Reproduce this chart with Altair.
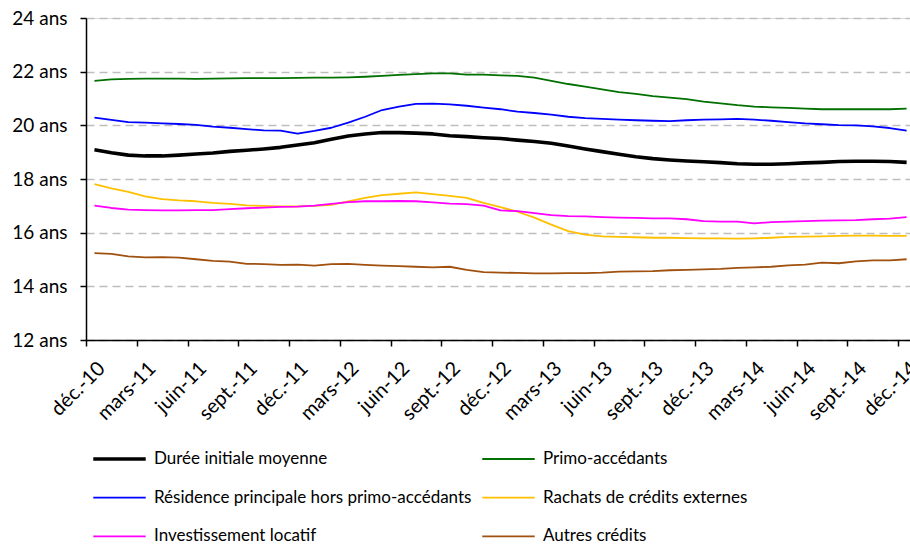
import json
import altair as alt
import pandas as pd

# Monthly series, déc.-10 to déc.-14 (49 months), in years
duree = [19.09, 18.98, 18.89, 18.86, 18.86, 18.89, 18.93, 18.97, 19.03, 19.07, 19.12, 19.18, 19.27,
         19.35, 19.48, 19.60, 19.68, 19.73, 19.73, 19.71, 19.68, 19.61, 19.58, 19.54, 19.51,
         19.45, 19.40, 19.33, 19.23, 19.12, 19.02, 18.92, 18.83, 18.76, 18.71, 18.67, 18.64,
         18.61, 18.57, 18.55, 18.55, 18.57, 18.60, 18.62, 18.65, 18.66, 18.66, 18.65, 18.62]
primo = [21.66, 21.71, 21.73, 21.74, 21.74, 21.74, 21.73, 21.74, 21.75, 21.76, 21.76, 21.76, 21.77,
         21.78, 21.78, 21.79, 21.81, 21.84, 21.88, 21.91, 21.94, 21.94, 21.89, 21.89, 21.86,
         21.84, 21.78, 21.66, 21.54, 21.44, 21.34, 21.24, 21.17, 21.09, 21.03, 20.98, 20.88,
         20.82, 20.75, 20.70, 20.67, 20.65, 20.62, 20.60, 20.60, 20.60, 20.60, 20.60, 20.62]
residence = [20.29, 20.20, 20.12, 20.10, 20.07, 20.05, 20.02, 19.95, 19.91, 19.86, 19.81, 19.80, 19.69,
             19.79, 19.91, 20.10, 20.32, 20.57, 20.70, 20.80, 20.81, 20.78, 20.73, 20.66, 20.60,
             20.51, 20.46, 20.40, 20.32, 20.27, 20.24, 20.21, 20.19, 20.17, 20.16, 20.19, 20.21,
             20.22, 20.24, 20.21, 20.17, 20.12, 20.07, 20.04, 20.01, 20.00, 19.96, 19.90, 19.80]
rachats = [17.81, 17.65, 17.52, 17.35, 17.25, 17.20, 17.17, 17.11, 17.07, 17.02, 17.00, 16.98, 16.98,
           17.00, 17.04, 17.17, 17.30, 17.40, 17.45, 17.50, 17.44, 17.37, 17.30, 17.11, 16.95,
           16.78, 16.56, 16.30, 16.06, 15.93, 15.86, 15.84, 15.83, 15.81, 15.81, 15.80, 15.79,
           15.79, 15.78, 15.79, 15.81, 15.84, 15.85, 15.86, 15.88, 15.89, 15.89, 15.88, 15.88]
locatif = [17.01, 16.92, 16.86, 16.84, 16.83, 16.83, 16.84, 16.84, 16.88, 16.91, 16.93, 16.96, 16.97,
           17.01, 17.07, 17.14, 17.17, 17.17, 17.18, 17.17, 17.13, 17.08, 17.06, 17.01, 16.83,
           16.80, 16.73, 16.65, 16.62, 16.61, 16.58, 16.56, 16.55, 16.53, 16.53, 16.50, 16.43,
           16.41, 16.41, 16.35, 16.39, 16.41, 16.43, 16.45, 16.46, 16.47, 16.50, 16.52, 16.58]
autres = [15.24, 15.21, 15.12, 15.08, 15.09, 15.07, 15.01, 14.95, 14.92, 14.84, 14.83, 14.80, 14.81,
          14.77, 14.83, 14.84, 14.80, 14.77, 14.75, 14.73, 14.71, 14.73, 14.61, 14.53, 14.51,
          14.50, 14.48, 14.48, 14.49, 14.49, 14.51, 14.55, 14.56, 14.57, 14.60, 14.61, 14.63,
          14.65, 14.69, 14.71, 14.73, 14.78, 14.81, 14.88, 14.86, 14.93, 14.97, 14.97, 15.01]

series_names = ["Durée initiale moyenne", "Primo-accédants",
                "Résidence principale hors primo-accédants", "Rachats de crédits externes",
                "Investissement locatif", "Autres crédits"]
series_values = [duree, primo, residence, rachats, locatif, autres]
series_colors = ["#000000", "#007000", "#0000FF", "#FFC000", "#FF00FF", "#A0500F"]
series_widths = [3.6, 1.8, 1.8, 1.8, 1.8, 1.8]

# the legend fills its two columns top to bottom, so list the left column first
legend_order = [0, 2, 4, 1, 3, 5]
dom = [series_names[k] for k in legend_order]
col_range = [series_colors[k] for k in legend_order]
w_range = [series_widths[k] for k in legend_order]

# quarterly axis labels (every third month)
tick_labels = ["déc.-10", "mars-11", "juin-11", "sept.-11", "déc.-11", "mars-12", "juin-12",
               "sept.-12", "déc.-12", "mars-13", "juin-13", "sept.-13", "déc.-13", "mars-14",
               "juin-14", "sept.-14", "déc.-14"]

rows = []
for name, vals in zip(series_names, series_values):
    for i, v in enumerate(vals):
        rows.append({"mois": i, "serie": name, "duree": v})
df = pd.DataFrame(rows)

FONT = "Lato"
half = 824 / 48.7 / 2  # half a month in pixels

legend = alt.Legend(
    title=None, orient="none", legendX=5, legendY=431, columns=2,
    symbolType="stroke", symbolSize=2750, clipHeight=20,
    labelFont=FONT, labelFontSize=17, labelColor="#000000", labelOffset=6,
    rowPadding=18.7, columnPadding=8, padding=0, labelLimit=400,
)

chart = alt.Chart(df).mark_line(clip=True, strokeJoin="round").encode(
    x=alt.X("mois:Q", scale=alt.Scale(domain=[-0.5, 48.2], nice=False, zero=False),
            axis=alt.Axis(
                title=None, values=list(range(0, 49, 3)), grid=False,
                labelExpr=json.dumps(tick_labels, ensure_ascii=False) + "[datum.value / 3]",
                labelAngle=-45, labelAlign="right", labelBaseline="middle",
                labelFont=FONT, labelFontSize=20, labelColor="#000000",
                tickOffset=-half, labelOffset=half + 7, labelPadding=19,
                tickSize=6, tickColor="#000000", tickWidth=1.5,
                domainColor="#000000", domainWidth=1.5, labelFlush=False,
                labelOverlap=False)),
    y=alt.Y("duree:Q", scale=alt.Scale(domain=[12, 24], nice=False, zero=False),
            axis=alt.Axis(
                title=None, values=list(range(12, 25, 2)),
                labelExpr="datum.value + ' ans'",
                labelFont=FONT, labelFontSize=19, labelColor="#000000", labelPadding=13,
                tickSize=6, tickColor="#000000", tickWidth=1.5,
                domainColor="#000000", domainWidth=1.5,
                gridColor="#BEBEBE", gridDash=[8, 5], gridWidth=1.5)),
    color=alt.Color("serie:N", scale=alt.Scale(domain=dom, range=col_range),
                    legend=legend),
    strokeWidth=alt.StrokeWidth("serie:N",
                                scale=alt.Scale(type="ordinal", domain=dom, range=w_range),
                                legend=legend),
    order=alt.Order("mois:Q"),
).properties(
    width=824, height=322,
    autosize=alt.AutoSizeParams(type="none"),
    padding={"left": 86, "top": 18, "right": 0, "bottom": 207},
).configure_view(stroke=None).configure(background="#FFFFFF")

chart.save("out.html", embed_options={"renderer": "svg", "actions": False})
